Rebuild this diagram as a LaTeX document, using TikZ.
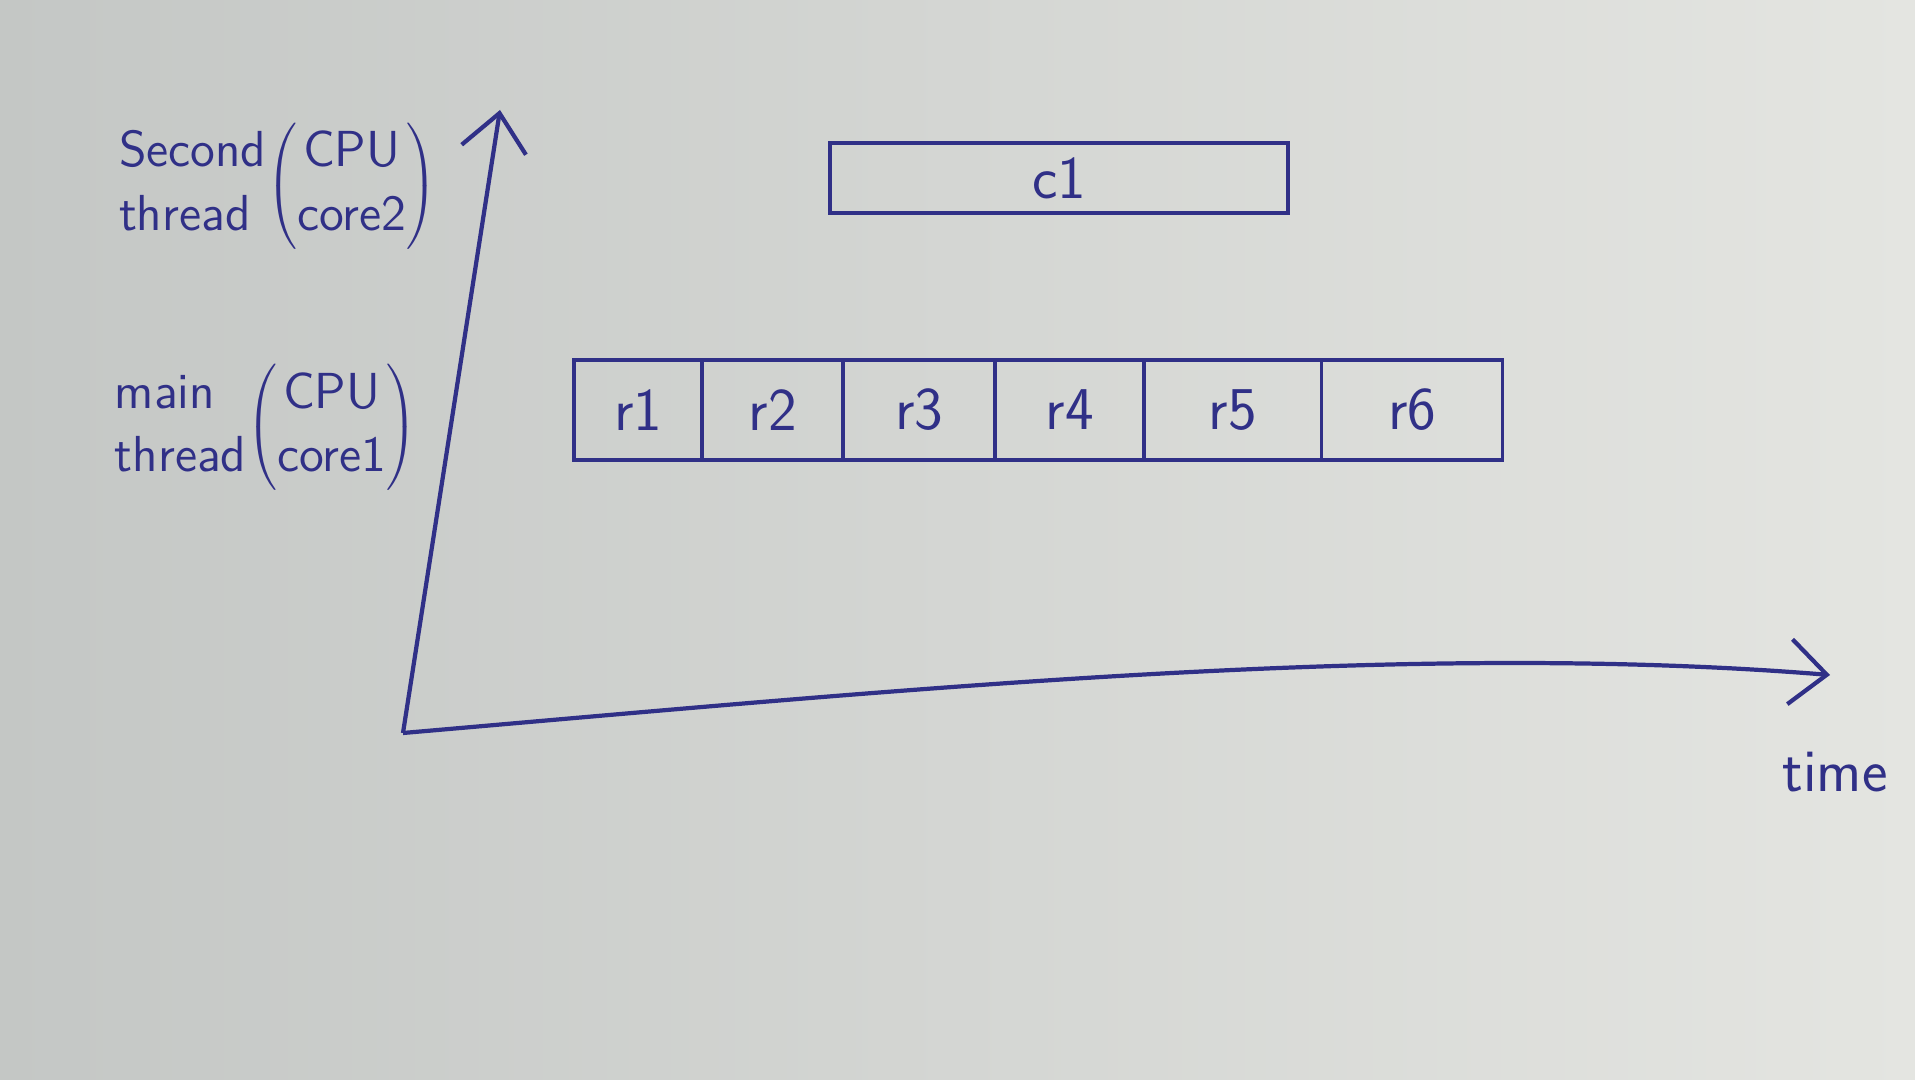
\documentclass[tikz,border=0pt]{standalone}
\usepackage{tikz}
\usetikzlibrary{arrows.meta,positioning}
\definecolor{ink}{RGB}{48,48,135}
\definecolor{paperL}{RGB}{196,199,197}
\definecolor{paperR}{RGB}{228,229,225}
\tikzset{
  slot/.style={draw=ink, line width=1.1pt, minimum height=1.0cm, inner sep=0pt, outer sep=0pt, font=\sffamily\LARGE, text=ink},
  lbl/.style={align=left, text=ink, font=\sffamily\Large, inner sep=0pt},
  axis/.style={-{Straight Barb[length=3.7mm,width=6.5mm]}, draw=ink, line width=1.2pt}
}

\begin{document}
\begin{tikzpicture}[x=0.01cm, y=-0.01cm]
    \shade[left color=paperL, right color=paperR] (0,0) rectangle (1915,1080);
    \useasboundingbox (0,0) rectangle (1915,1080);

    % axes
    \coordinate (o) at (403,733);
    \coordinate (ytop) at (500,110);
    \coordinate (xend) at (1830,675);
    \draw[axis] (o) -- (ytop);
    \draw[axis] (o) .. controls (900,690) and (1400,640) .. (xend);
    \node[lbl, font=\sffamily\LARGE] (time) at (1835,772) {time};

    % thread labels
    \node[lbl] (second) at (278,186) {\begin{tabular}{@{}l@{}}Second\\thread\end{tabular}$\left(\begin{tabular}{@{}c@{}}CPU\\core2\end{tabular}\right)$};
    \node[lbl] (main) at (266,427) {\begin{tabular}{@{}l@{}}main\\thread\end{tabular}$\left(\begin{tabular}{@{}c@{}}CPU\\core1\end{tabular}\right)$};

    % second thread work
    \node[slot, minimum width=4.58cm, minimum height=0.7cm, anchor=west] (c1) at (830,178) {c1};

    % main thread work
    \node[slot, minimum width=1.28cm, anchor=west] (r1) at (574,410) {r1};
    \node[slot, minimum width=1.41cm, right=0pt of r1] (r2) {r2};
    \node[slot, minimum width=1.52cm, right=0pt of r2] (r3) {r3};
    \node[slot, minimum width=1.49cm, right=0pt of r3] (r4) {r4};
    \node[slot, minimum width=1.77cm, right=0pt of r4] (r5) {r5};
    \node[slot, minimum width=1.81cm, right=0pt of r5] (r6) {r6};
\end{tikzpicture}
\end{document}
